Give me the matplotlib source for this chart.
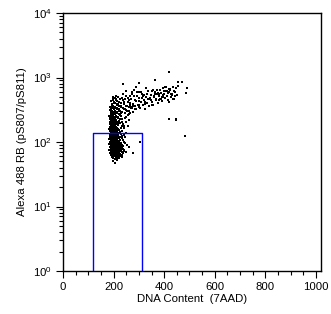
import matplotlib.pyplot as plt
from matplotlib.ticker import MultipleLocator, LogLocator, NullFormatter

plt.rcParams['font.family'] = ['Liberation Sans', 'DejaVu Sans']
plt.rcParams['mathtext.fontset'] = 'custom'
plt.rcParams['mathtext.rm'] = 'Liberation Sans'

# G1 core: dense blob around DNA ~205, intensity ~60-135
core_x = [196, 204, 212, 221,
          192, 200, 209, 216, 226,
          189, 197, 203, 208, 214, 220, 231,
          193, 199, 205, 211, 217, 224,
          190, 195, 201, 206, 212, 218, 222, 236,
          188, 194, 198, 203, 209, 214, 219, 226,
          191, 196, 200, 205, 210, 215, 221, 229, 243,
          189, 193, 198, 202, 207, 212, 217, 223,
          192, 196, 200, 204, 209, 214, 219, 225, 238,
          188, 194, 198, 202, 206, 211, 216, 221, 232,
          191, 195, 199, 203, 208, 213, 218, 227,
          189, 193, 197, 201, 205, 210, 215, 220, 235, 252,
          192, 196, 200, 204, 208, 212, 217, 224,
          188, 194, 198, 202, 207, 211, 216, 229,
          191, 195, 199, 203, 209, 214, 220, 241,
          189, 193, 197, 201, 206, 212, 218,
          192, 196, 200, 205, 210, 215, 226,
          190, 194, 198, 203, 208, 213,
          188, 193, 197, 202, 207, 212, 221,
          191, 196, 200, 204, 209, 216,
          189, 194, 199, 203, 208, 213, 232,
          192, 197, 201, 206, 211, 218,
          190, 195, 200, 204, 210, 215]
core_y = [56, 55, 57, 56,
          59, 60, 58, 59, 60,
          62, 63, 62, 61, 63, 62, 62,
          65, 66, 65, 64, 66, 65,
          68, 69, 68, 67, 68, 69, 68, 67,
          71, 72, 71, 70, 72, 71, 71, 72,
          74, 75, 74, 73, 75, 74, 74, 75, 73,
          77, 78, 77, 76, 78, 77, 77, 78,
          80, 81, 80, 79, 81, 80, 80, 81, 79,
          83, 84, 83, 82, 84, 83, 83, 84, 83,
          86, 87, 86, 85, 87, 86, 86, 87,
          90, 91, 90, 89, 91, 90, 90, 91, 89, 90,
          93, 94, 93, 92, 94, 93, 93, 94,
          97, 98, 97, 96, 98, 97, 97, 96,
          100, 101, 100, 99, 101, 100, 100, 100,
          104, 105, 104, 103, 105, 104, 104,
          108, 109, 108, 107, 109, 108, 108,
          112, 113, 112, 111, 113, 112,
          116, 117, 116, 115, 117, 116, 116,
          120, 121, 120, 119, 121, 120,
          125, 126, 125, 124, 126, 125, 125,
          130, 131, 130, 129, 131, 130,
          135, 136, 135, 134, 136, 135]

# column rising above the G1 blob
column_x = [189, 194, 199, 204, 210, 216, 224,
            187, 193, 198, 203, 208, 214,
            190, 195, 200, 206, 212, 220,
            186, 192, 197, 202, 209, 217,
            189, 194, 199, 205, 213, 228,
            187, 192, 198, 203, 210,
            190, 196, 201, 207, 216, 240,
            186, 193, 198, 204, 212,
            189, 195, 200, 208, 222,
            187, 192, 199, 206, 215, 234,
            190, 196, 202, 211,
            186, 193, 200, 209, 226,
            189, 197, 205, 218,
            187, 194, 201, 212, 250,
            191, 198, 208, 230,
            188, 196, 205, 220, 262,
            192, 200, 214, 244,
            189, 198, 210, 235, 275,
            194, 204, 225, 258,
            191, 201, 218, 248, 290,
            196, 212, 236, 270,
            193, 206, 228, 262, 300,
            198, 220, 250, 285,
            195, 214, 242, 278,
            200, 230, 265,
            203, 222, 256,
            198, 236,
            210, 245, 226,
            204, 232,
            199, 216]
column_y = [140, 141, 140, 139, 141, 140, 140,
            146, 147, 146, 145, 147, 146,
            152, 153, 152, 151, 153, 152,
            158, 159, 158, 157, 159, 158,
            165, 166, 165, 164, 166, 165,
            172, 173, 172, 171, 173,
            180, 181, 180, 179, 181, 180,
            188, 189, 188, 187, 189,
            196, 197, 196, 195, 197,
            205, 206, 205, 204, 206, 205,
            214, 215, 214, 213,
            224, 225, 224, 223, 224,
            234, 235, 234, 233,
            245, 246, 245, 244, 245,
            256, 257, 256, 255,
            268, 269, 268, 267, 268,
            280, 281, 280, 279,
            293, 294, 293, 292, 293,
            306, 307, 306, 305,
            320, 321, 320, 319, 320,
            335, 336, 335, 334,
            350, 351, 350, 349, 350,
            367, 368, 367, 366,
            384, 385, 384, 383,
            402, 403, 402,
            420, 421, 420,
            440, 441,
            460, 461, 460,
            482, 483,
            505, 506]

# scattered halo around the blob and the column
halo_x = [180, 183, 181, 184, 182, 185, 183, 186,
          235, 240, 238, 244, 236, 246, 240, 250, 232, 242, 255, 238,
          248, 260, 244, 256, 266, 252, 240, 272, 226, 230, 222, 215,
          228, 218, 240, 212, 224, 208, 196, 188, 192, 185,
          233, 228, 231, 226, 229, 234,
          184, 186, 187, 185,
          225, 232, 219, 227, 221, 233, 216, 224, 212, 220, 206, 213, 204, 210]
halo_y = [75, 92, 110, 130, 160, 200, 250, 310,
          62, 75, 88, 96, 108, 118, 130, 140, 150, 165, 178, 190,
          205, 220, 238, 260, 285, 300, 320, 340, 260, 280, 300, 330,
          360, 390, 410, 430, 470, 520, 480, 430, 380, 350,
          70, 82, 95, 120, 135, 115,
          68, 84, 100, 118,
          145, 175, 185, 200, 215, 230, 245, 275, 290, 320, 340, 370, 400, 450]

# S / G2 arm bending to the right
arm_x = [245, 252, 258, 262, 268, 270, 276, 280, 284, 288,
         292, 296, 300, 304, 308, 312, 316, 320, 324, 328,
         332, 336, 340, 344, 348, 352, 356, 360, 364, 368,
         372, 376, 380, 384, 388, 392, 396, 400, 404, 408,
         412, 416, 420, 424, 428, 432, 436, 440, 444, 450,
         240, 255, 266, 274, 286, 294, 302, 310, 318, 326,
         334, 342, 350, 358, 366, 374, 382, 390, 398, 406,
         414, 422, 430, 438, 446, 238, 248, 264, 282, 298,
         314, 330, 346, 362, 378, 394, 410, 426, 442, 260,
         278, 290, 306, 322, 338, 354, 370, 386, 402, 418,
         434, 250, 272, 300, 326, 352, 378, 396, 420, 237]
arm_y = [330, 360, 410, 300, 470, 350, 390, 520, 330, 430,
         600, 370, 480, 340, 410, 550, 380, 450, 320, 500,
         400, 620, 360, 460, 530, 420, 380, 490, 560, 440,
         650, 400, 520, 470, 580, 430, 540, 610, 480, 700,
         520, 450, 590, 640, 500, 560, 720, 470, 600, 540,
         420, 480, 380, 560, 450, 510, 430, 600, 520, 410,
         560, 480, 610, 520, 460, 580, 640, 500, 560, 620,
         580, 660, 540, 610, 680, 560, 620, 520, 650, 590,
         480, 690, 440, 600, 550, 680, 610, 560, 520, 440,
         360, 700, 600, 540, 470, 650, 560, 460, 720, 670,
         470, 520, 600, 380, 390, 370, 450, 500, 420, 790]

# sparse events and outliers
outlier_x = [205, 212, 198, 276, 305, 260, 248, 232, 418, 446,
             446, 481, 418, 455, 470, 455, 489, 485, 363, 300]
outlier_y = [48, 52, 50, 67, 101, 85, 70, 58, 227, 227,
             218, 126, 1230, 850, 850, 750, 690, 575, 910, 820]

# gate: open at the bottom
gate_x = [120, 120, 314, 314]
gate_y = [1.05, 136, 136, 1.05]

fig = plt.figure(figsize=(3.31, 3.14), dpi=100)
ax = fig.add_axes([63 / 331, 43 / 314, 258 / 331, 258 / 314])

for xs, ys in [(core_x, core_y), (column_x, column_y), (halo_x, halo_y),
               (arm_x, arm_y), (outlier_x, outlier_y)]:
    ax.scatter(xs, ys, s=1.0, marker='s', c='black', linewidths=0)

ax.plot(gate_x, gate_y, color='#0000ff', linewidth=1.0)

ax.set_yscale('log')
ax.set_xlim(0, 1020)
ax.set_ylim(1, 1e4)

ax.xaxis.set_major_locator(MultipleLocator(200))
ax.xaxis.set_minor_locator(MultipleLocator(50))
ax.yaxis.set_minor_locator(LogLocator(base=10, subs=range(2, 10), numticks=20))
ax.yaxis.set_minor_formatter(NullFormatter())
ax.set_yticks([1, 10, 100, 1000, 10000])
ax.set_yticklabels([r'$\mathregular{10^{%d}}$' % i for i in range(5)])

ax.tick_params(which='major', length=5, width=0.8, labelsize=8.2, direction='out', pad=3)
ax.tick_params(which='minor', length=3, width=0.8, direction='out')
for sp in ax.spines.values():
    sp.set_linewidth(1.0)

ax.set_xlabel('DNA Content  (7AAD)', fontsize=8.2, labelpad=1)
ax.set_ylabel('Alexa 488 RB (pS807/pS811)', fontsize=8.2, labelpad=4)

fig.savefig('out.png', dpi=100)
